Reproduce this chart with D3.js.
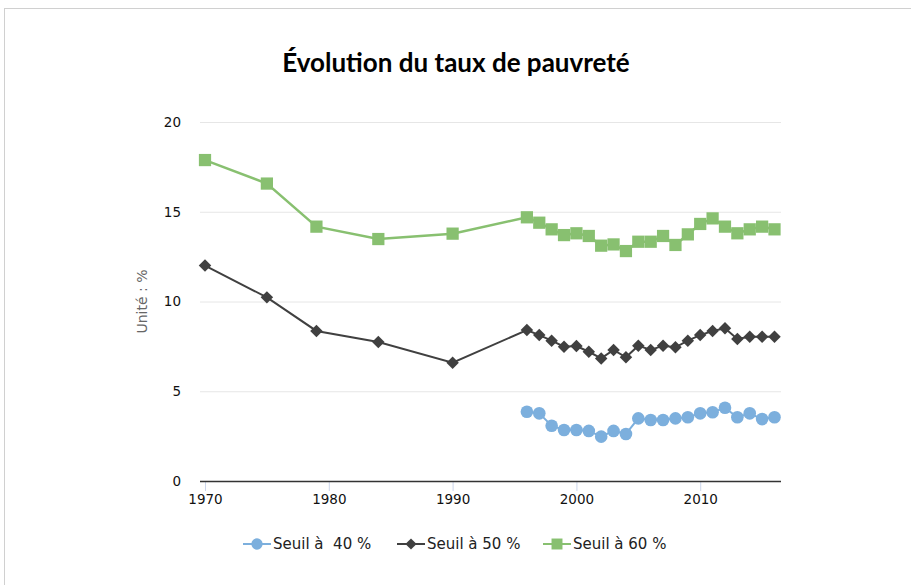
<!DOCTYPE html>
<html><head><meta charset="utf-8">
<script src="https://cdn.jsdelivr.net/npm/d3@7"></script>
<style>body{margin:0;background:#fff;}svg{display:block;font-family:"DejaVu Sans",sans-serif;}
.tick text{font-family:"DejaVu Sans",sans-serif !important;}</style>
</head><body><svg id="c" width="911" height="585"></svg>
<script>
const title = "Évolution du taux de pauvreté";
const yAxisTitle = "Unité : %";
const years = [1970,1975,1979,1984,1990,1996,1997,1998,1999,2000,2001,2002,2003,2004,2005,2006,2007,2008,2009,2010,2011,2012,2013,2014,2015,2016];
const seuil40 = [null,null,null,null,null,3.86,3.77,3.08,2.84,2.84,2.79,2.47,2.79,2.62,3.49,3.40,3.40,3.49,3.55,3.77,3.83,4.08,3.55,3.77,3.45,3.55];
const seuil50 = [12.0,10.23,8.36,7.74,6.59,8.41,8.13,7.82,7.48,7.52,7.20,6.83,7.30,6.89,7.54,7.30,7.54,7.45,7.82,8.13,8.36,8.51,7.91,8.04,8.04,8.04];
const seuil60 = [17.88,16.57,14.17,13.48,13.78,14.69,14.39,14.02,13.70,13.80,13.65,13.11,13.18,12.81,13.33,13.33,13.65,13.15,13.74,14.32,14.63,14.17,13.80,14.02,14.17,14.02];
const seriesNames = ["Seuil à  40 %","Seuil à 50 %","Seuil à 60 %"];
const yTicks = [0,5,10,15,20];
const xTicks = [1970,1980,1990,2000,2010];

const colors = ["#7cafdd","#404040","#88c070"];
const shapes = [d3.symbolCircle, d3.symbolSquare, d3.symbolSquare];
const rotations = [0, 45, 0];
const sizes = [125, 78, 150];

const svg = d3.select("#c");
svg.append("rect").attr("x",4.5).attr("y",8.5).attr("width",920).attr("height",600)
  .attr("fill","#fff").attr("stroke","#d0d0d0");

const x = d3.scaleLinear().domain([1970,2016]).range([205,774.5]);
const y = d3.scaleLinear().domain([0,20]).range([481,122]);
const left = 200, right = 781;

svg.append("text").attr("x",456).attr("y",72).attr("text-anchor","middle")
  .style("font-size","26px").style("font-weight","bold").attr("fill","#000")
  .style("font-family","Lato, 'Open Sans', sans-serif").text(title);

// grid
const gy = svg.append("g").attr("transform",`translate(${left},0)`)
  .call(d3.axisLeft(y).tickValues(yTicks).tickSize(-(right-left)).tickFormat(d3.format("d")));
gy.select(".domain").remove();
gy.selectAll(".tick line").attr("stroke","#e6e6e6");
gy.selectAll(".tick text").attr("x",-19).style("font-size","13.5px").attr("fill","#111");

// x axis
const gx = svg.append("g").attr("transform",`translate(0,${y(0)})`)
  .call(d3.axisBottom(x).tickValues(xTicks).tickSize(10).tickFormat(d3.format("d")));
gx.select(".domain").remove();
gx.selectAll(".tick line").attr("stroke","#ccd6eb");
gx.selectAll(".tick text").style("font-size","13.5px").attr("fill","#111").attr("y",13);
svg.append("line").attr("x1",left).attr("x2",right).attr("y1",y(0)+0.5).attr("y2",y(0)+0.5)
  .attr("stroke","#333").attr("stroke-width",1.5);

svg.append("text").attr("transform",`translate(147,${(y(0)+y(20))/2}) rotate(-90)`)
  .attr("text-anchor","middle").style("font-size","14px").attr("fill","#666")
  .text(yAxisTitle);

const allSeries = [seuil40, seuil50, seuil60];
const line = d3.line().defined(d=>d.v!=null).x(d=>x(d.y)).y(d=>y(d.v));
allSeries.forEach((vals,i)=>{
  const data = years.map((yr,j)=>({y:yr,v:vals[j]}));
  svg.append("path").datum(data).attr("d",line).attr("fill","none")
    .attr("stroke",colors[i]).attr("stroke-width",i===2?2.5:2);
  svg.append("g").selectAll("path").data(data.filter(d=>d.v!=null)).join("path")
    .attr("transform",d=>`translate(${x(d.y)},${y(d.v)}) rotate(${rotations[i]})`)
    .attr("d",d3.symbol().type(shapes[i]).size(sizes[i]))
    .attr("fill",colors[i]);
});

// legend
const lg = svg.append("g").style("font-size","15px");
const legendX = [243, 397, 543];
seriesNames.forEach((n,i)=>{
  const g = lg.append("g").attr("transform",`translate(${legendX[i]},544)`);
  g.append("line").attr("x1",0).attr("x2",28).attr("stroke",colors[i]).attr("stroke-width",2);
  g.append("path").attr("transform",`translate(14,0) rotate(${rotations[i]})`)
    .attr("d",d3.symbol().type(shapes[i]).size(sizes[i]*0.8)).attr("fill",colors[i]);
  g.append("text").attr("x",30).attr("y",5).attr("fill","#222")
    .style("white-space","pre").text(n);
});
</script></body></html>
